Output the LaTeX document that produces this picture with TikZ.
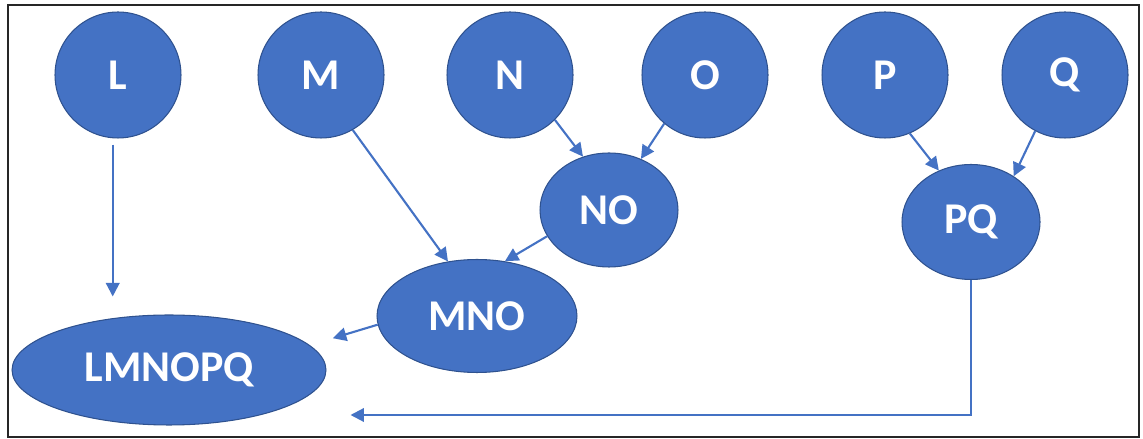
\documentclass[tikz,border=0pt]{standalone}
\usepackage{fontspec}
\setmainfont{Carlito}
\usepackage{tikz}
\usetikzlibrary{arrows.meta,shapes.geometric}
\definecolor{nodeblue}{HTML}{4472C4}
\definecolor{edgeblue}{HTML}{2F528F}

\begin{document}
\begin{tikzpicture}[
	x=0.02cm,
	y=0.02cm,
	font=\bfseries\fontsize{25}{30}\selectfont,
	leaf/.style={circle,draw=edgeblue,fill=nodeblue,line width=0.6pt,text=white,minimum size=2.52cm,inner sep=0pt},
	merged/.style={ellipse,draw=edgeblue,fill=nodeblue,line width=0.6pt,text=white,inner sep=0pt},
	link/.style={-{Triangle[length=0.27cm,width=0.27cm]},draw=nodeblue,line width=1.2pt},
	frame/.style={draw=black!85,line width=1.6pt}
	]
	\useasboundingbox (0,0) rectangle (1143,439);
	\draw[frame] (8,2) rectangle (1139,434);
	
	% Top row of single letters
	\foreach \name/\x in {L/118,M/321,N/510,O/705,P/885,Q/1065} {
		\node[leaf] (\name) at (\x,364) {\name};
	}
	
	% Merged clusters
	\node[merged,minimum width=2.76cm,minimum height=2.28cm] (NO) at (609,229) {NO};
	\node[merged,minimum width=2.76cm,minimum height=2.30cm] (PQ) at (971,217) {PQ};
	\node[merged,minimum width=4.00cm,minimum height=2.26cm] (MNO) at (477,123) {MNO};
	\node[merged,minimum width=6.28cm,minimum height=2.20cm] (LMNOPQ) at (169,69) {LMNOPQ};
	
	% Connectors
	\draw[link,shorten <=0.12cm,shorten >=0.36cm] ([xshift=-3]L.south) -- ([xshift=-3]L.south |- LMNOPQ.north);
	\draw[link] (M.-60) -- (MNO.118);
	\draw[link] (N.-45) -- (NO.116);
	\draw[link] (O.230) -- (NO.58);
	\draw[link] (NO.203) -- (MNO.63);
	\draw[link,shorten >=0.48cm] (MNO.185) -- (LMNOPQ.10);
	\draw[link] (P.-67) -- (PQ.122);
	\draw[link] (Q.242) -- (PQ.47);
	\draw[link] (PQ.south) |- ([shift={(24,-45)}]LMNOPQ.east);
\end{tikzpicture}
\end{document}
